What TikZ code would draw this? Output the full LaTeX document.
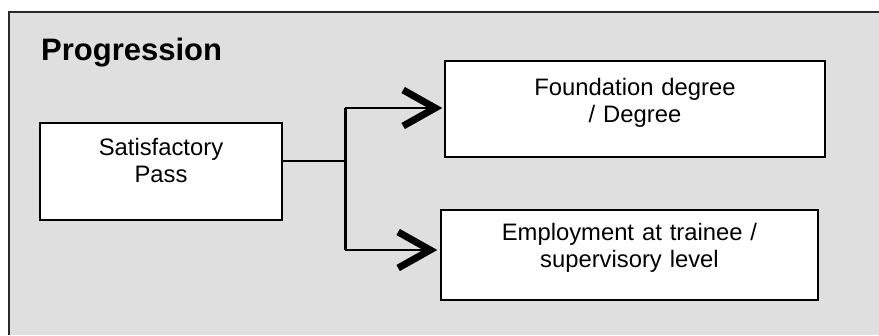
\documentclass[tikz,border=0pt]{standalone}
\usepackage{fontspec}
\setmainfont{Liberation Sans}
\usepackage{xcolor}
\usetikzlibrary{arrows.meta,positioning,calc}
\definecolor{panel}{HTML}{DFDFDF}
\definecolor{edge}{HTML}{2A2A2A}

\begin{document}
\begin{tikzpicture}[
  x=1pt, y=-1pt,
  box/.style={draw, line width=1.4pt, fill=white, inner xsep=0pt, align=center, font=\fontsize{23.8}{27}\selectfont},
  lift/.style={execute at end node={\endgraf\vspace{#1}}},
  line/.style={line width=1.6pt},
  bar/.style={line width=3pt},
  arrow/.style={line width=1.6pt, -{Straight Barb[length=32pt, width=36pt, line width=7pt]}},
]
\useasboundingbox (0,0) rectangle (879,335);
% panel
\fill[panel] (9,12) rectangle (879,335);
\draw[edge, line width=2pt] (879,12) -- (9,12) -- (9,335);

\node[anchor=base west, inner sep=0pt, font=\bfseries\fontsize{31}{36}\selectfont] (title) at (41,60) {Progression};

\node[box, text width=242pt, minimum height=97pt, lift=23pt] (pass) at (161,171.5) {Satisfactory\\Pass};
\node[box, text width=380pt, minimum height=96pt, lift=12pt] (found) at (635,109) {Foundation degree\\/ Degree};
\node[box, text width=377pt, minimum height=90pt, lift=15pt] (empl) at (629.5,255) {Employment at trainee /\\supervisory level};

% branching connector
\coordinate (split) at (345,161);
\coordinate (splittop) at (345,108);
\coordinate (splitbot) at (345,250);
\draw[line] (split -| pass.east) -- (split);
\draw[bar] (splittop) -- (splitbot);
\draw[arrow, shorten >=2pt] (splittop) -- (splittop -| found.west);
\draw[arrow, shorten >=3pt] (splitbot) -- (splitbot -| empl.west);
\end{tikzpicture}
\end{document}
